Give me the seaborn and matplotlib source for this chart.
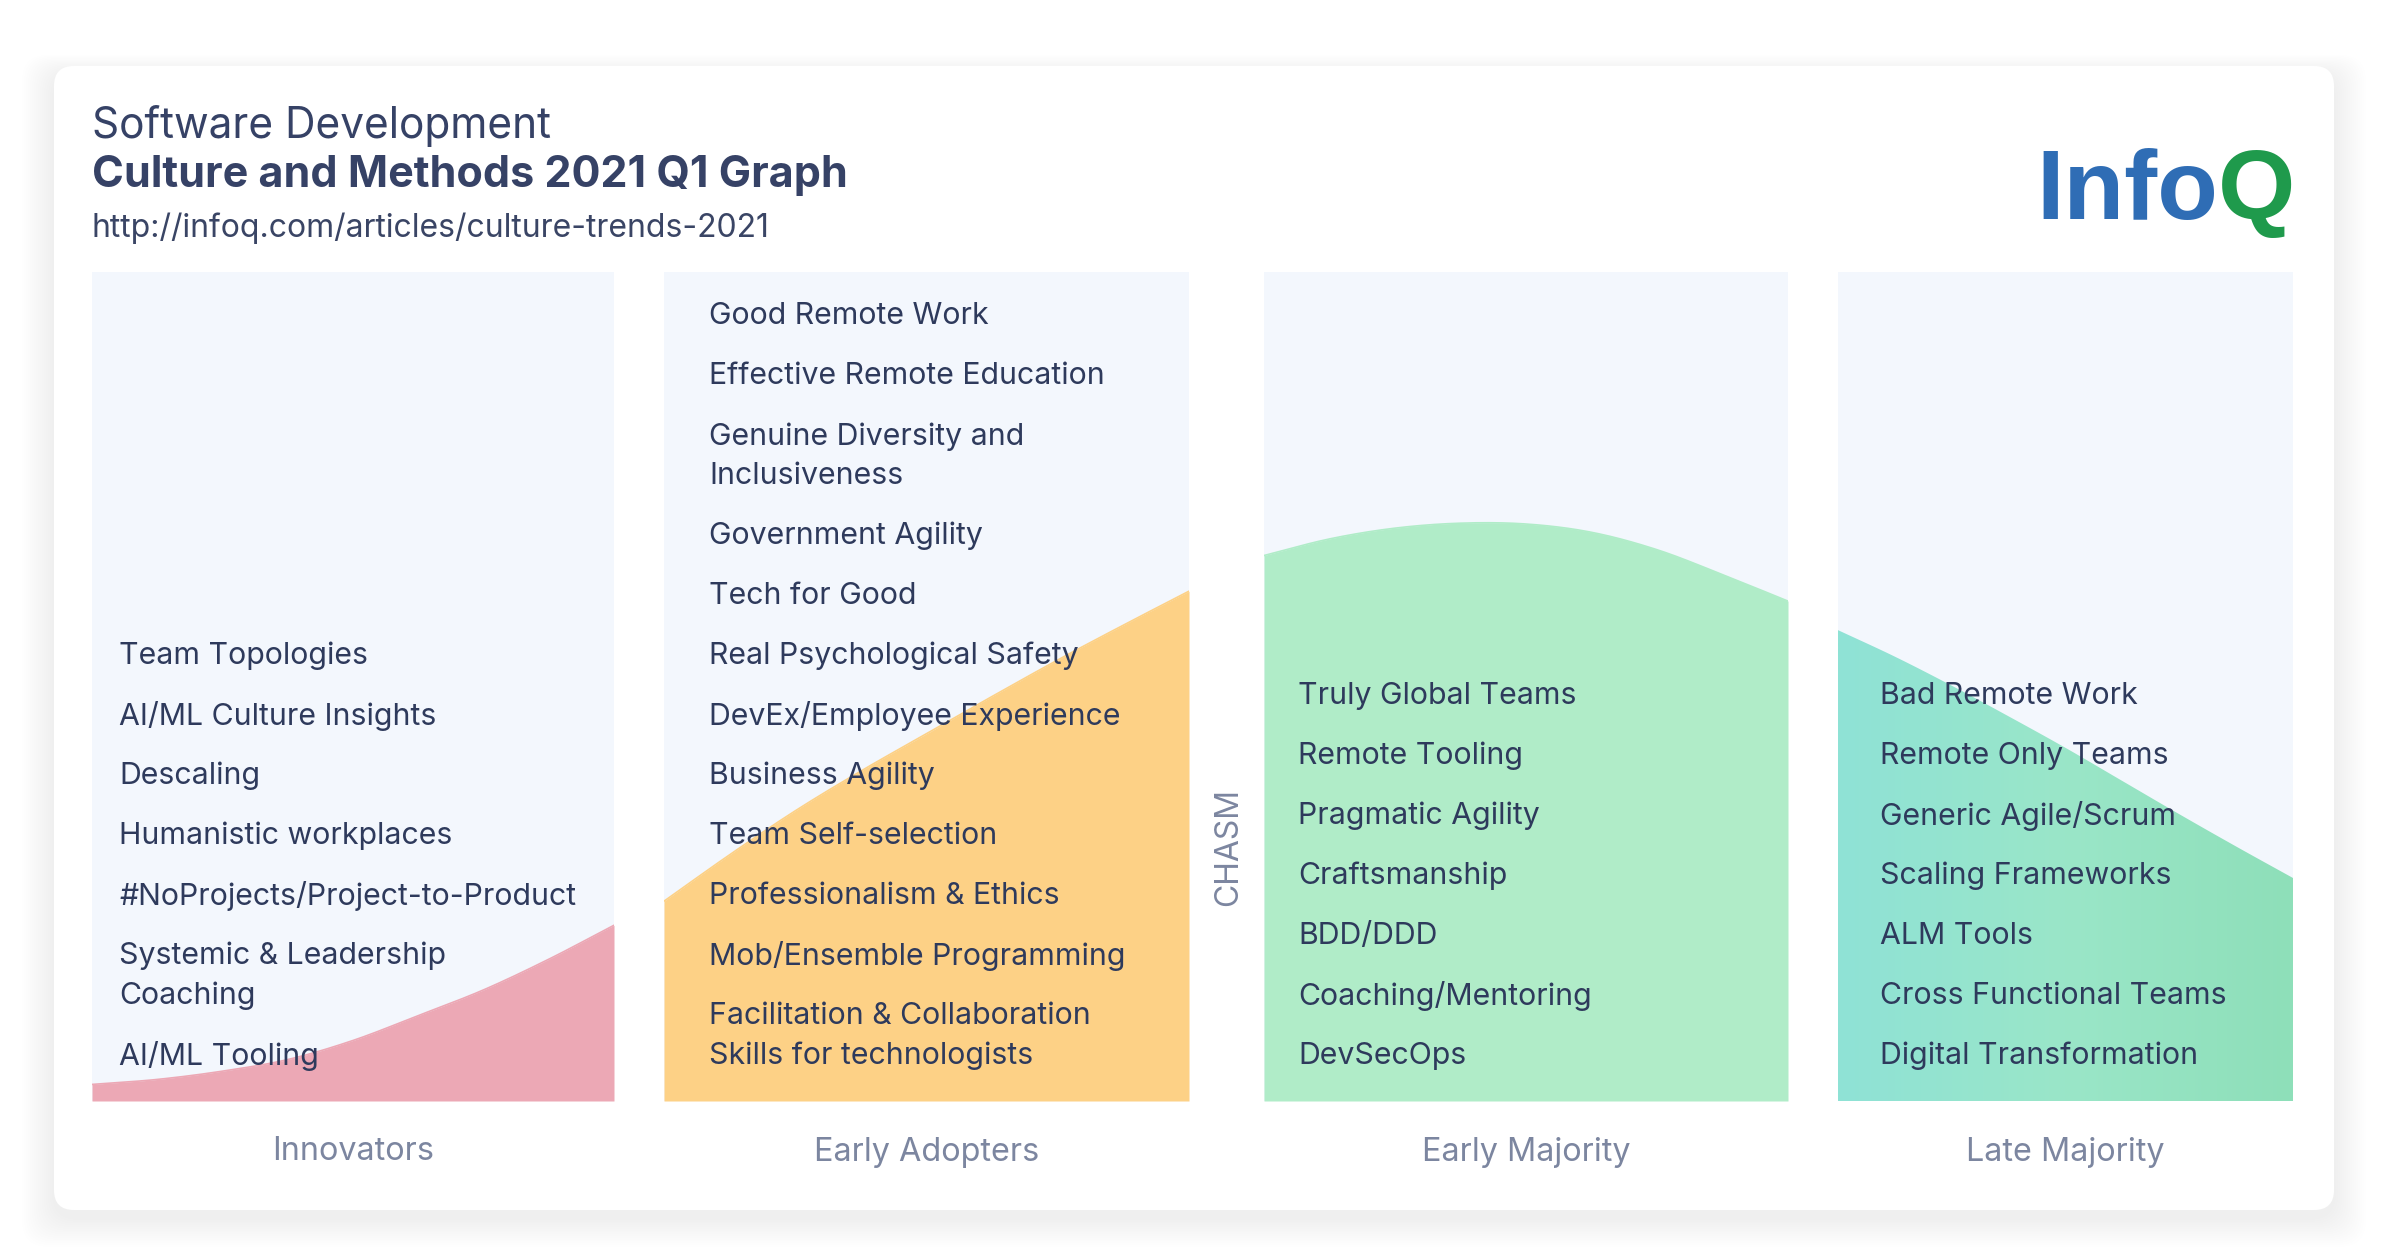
import numpy as np
import matplotlib
matplotlib.use("Agg")
import matplotlib.pyplot as plt
import seaborn as sns
import pandas as pd
from matplotlib.patches import FancyBboxPatch
from matplotlib.colors import LinearSegmentedColormap

# ---------------- data ----------------
stages = ["Innovators", "Early Adopters", "Early Majority", "Late Majority"]

innovators_items = [
    "Team Topologies", "AI/ML Culture Insights", "Descaling", "Humanistic workplaces",
    "#NoProjects/Project-to-Product", "Systemic & Leadership\nCoaching", "AI/ML Tooling",
]
early_adopters_items = [
    "Good Remote Work", "Effective Remote Education", "Genuine Diversity and\nInclusiveness",
    "Government Agility", "Tech for Good", "Real Psychological Safety",
    "DevEx/Employee Experience", "Business Agility", "Team Self-selection",
    "Professionalism & Ethics", "Mob/Ensemble Programming",
    "Facilitation & Collaboration\nSkills for technologists",
]
early_majority_items = [
    "Truly Global Teams", "Remote Tooling", "Pragmatic Agility", "Craftsmanship",
    "BDD/DDD", "Coaching/Mentoring", "DevSecOps",
]
late_majority_items = [
    "Bad Remote Work", "Remote Only Teams", "Generic Agile/Scrum", "Scaling Frameworks",
    "ALM Tools", "Cross Functional Teams", "Digital Transformation",
]

# adoption curve heights (fraction of panel height) across each panel
curve_x = [0.0, 0.125, 0.25, 0.375, 0.5, 0.625, 0.75, 0.875, 1.0]
innovators_curve = [0.020, 0.026, 0.036, 0.050, 0.073, 0.103, 0.134, 0.171, 0.212]
early_adopters_curve = [0.241, 0.297, 0.350, 0.398, 0.443, 0.488, 0.532, 0.574, 0.615]
early_majority_curve = [0.658, 0.678, 0.691, 0.697, 0.696, 0.686, 0.665, 0.635, 0.603]
late_majority_curve = [0.568, 0.536, 0.501, 0.464, 0.426, 0.386, 0.346, 0.307, 0.269]

title_line1 = "Software Development"
title_line2 = "Culture and Methods 2021 Q1 Graph"
url_text = "http://infoq.com/articles/culture-trends-2021"
chasm_label = "CHASM"

# ---------------- style ----------------
sns.set_theme(style="white")
plt.rcParams['font.family'] = ['Inter', 'DejaVu Sans']

W, H = 2400, 1256
fig = plt.figure(figsize=(W / 100, H / 100), dpi=100)
fig.patch.set_facecolor("white")

NAVY = "#2e3a5c"
GREY = "#7c86a0"
PANEL_BG = "#f3f7fd"


def smooth(xs, ys, n=200):
    """Catmull-Rom rendering of the read points."""
    xs = np.asarray(xs, float)
    ys = np.asarray(ys, float)
    px = np.concatenate([[2 * xs[0] - xs[1]], xs, [2 * xs[-1] - xs[-2]]])
    py = np.concatenate([[2 * ys[0] - ys[1]], ys, [2 * ys[-1] - ys[-2]]])
    ox, oy = [], []
    seg = max(n // (len(xs) - 1), 4)
    for i in range(1, len(px) - 2):
        t = np.linspace(0, 1, seg, endpoint=False)
        for arr, out in ((px, ox), (py, oy)):
            p0, p1, p2, p3 = arr[i - 1], arr[i], arr[i + 1], arr[i + 2]
            out.extend(0.5 * ((2 * p1) + (-p0 + p2) * t + (2 * p0 - 5 * p1 + 4 * p2 - p3) * t ** 2
                              + (-p0 + 3 * p1 - 3 * p2 + p3) * t ** 3))
    ox.append(xs[-1]); oy.append(ys[-1])
    return np.array(ox), np.array(oy)


# background axes (card + shadow)
bg = fig.add_axes([0, 0, 1, 1])
bg.set_xlim(0, W); bg.set_ylim(H, 0); bg.axis("off")
card_x0, card_y0, card_x1, card_y1 = 54, 66, 2334, 1210
for k in range(16, 0, -1):
    bg.add_patch(FancyBboxPatch((card_x0 - k * 2.0, card_y0 - k * 1.2 + 8), card_x1 - card_x0 + 4 * k,
                                card_y1 - card_y0 + 3.0 * k, boxstyle="round,pad=0,rounding_size=26",
                                fc="#000000", ec="none", alpha=0.004))
bg.add_patch(FancyBboxPatch((card_x0, card_y0), card_x1 - card_x0, card_y1 - card_y0,
                            boxstyle="round,pad=0,rounding_size=20", fc="white", ec="none"))

# panels
panel_x = [(92, 614), (664, 1189), (1264, 1788), (1838, 2293)]
panel_top, panel_bot = 272, 1101
curves = [innovators_curve, early_adopters_curve, early_majority_curve, late_majority_curve]
colors = ["#eca8b5", "#fdd186", "#b0ecc8", None]
panel_axes = []
for (x0, x1), cv, col in zip(panel_x, curves, colors):
    ax = fig.add_axes([x0 / W, 1 - panel_bot / H, (x1 - x0) / W, (panel_bot - panel_top) / H])
    ax.set_facecolor(PANEL_BG)
    ax.set_xlim(0, 1); ax.set_ylim(0, 1)
    for s in ax.spines.values():
        s.set_visible(False)
    ax.set_xticks([]); ax.set_yticks([])
    sx, sy = smooth(curve_x, cv)
    df = pd.DataFrame({"x": sx, "y": sy})
    if col is not None:
        ax.fill_between(df["x"], 0, df["y"], color=col, lw=0)
        sns.lineplot(data=df, x="x", y="y", ax=ax, color=col, lw=1.2, sort=False)
    else:
        poly = ax.fill_between(df["x"], 0, df["y"], color="none", lw=0)
        cmap = LinearSegmentedColormap.from_list("lm", ["#8fe2d6", "#9ae6c8", "#8edfb9"])
        grad = np.linspace(0, 1, 256).reshape(1, -1)
        im = ax.imshow(grad, extent=[0, 1, 0, 1], aspect="auto", cmap=cmap, origin="lower", zorder=1)
        path = poly.get_paths()[0]
        im.set_clip_path(path, transform=ax.transData)
    ax.set_xlim(0, 1); ax.set_ylim(0, 1)
    ax.set_xlabel(""); ax.set_ylabel("")
    panel_axes.append(ax)

# overlay for text
ov = fig.add_axes([0, 0, 1, 1])
ov.set_xlim(0, W); ov.set_ylim(H, 0); ov.axis("off")
ov.patch.set_alpha(0)

ov.text(92, 126, title_line1, fontsize=30.5, color="#364266", va="center", ha="left")
ov.text(92, 175, title_line2, fontsize=31, color="#364266", va="center", ha="left", fontweight="bold")
ov.text(92, 228, url_text, fontsize=23, color="#3a4565", va="center", ha="left")

# logo
logo_base = 219
t1 = ov.text(2036, logo_base, "Info", fontsize=71.5, color="#2f6db5", fontweight="bold",
             family=["Liberation Sans"], va="baseline", ha="left")
fig.canvas.draw()
bb = t1.get_window_extent()
x_end = bb.x1
ov.text(x_end, logo_base, "Q", fontsize=71.5, color="#1f9a4c", fontweight="bold",
        family=["Liberation Sans"], va="baseline", ha="left")

# items (bottom-aligned)
item_lists = [innovators_items, early_adopters_items, early_majority_items, late_majority_items]
item_x = [119, 709, 1298, 1880]
last_y, step, wrap = 1056, 60.0, 39.8
for items, x in zip(item_lists, item_x):
    y = last_y
    for it in reversed(items):
        lines = it.split("\n")
        for j, ln in enumerate(reversed(lines)):
            ov.text(x, y, ln, fontsize=21.8, color=NAVY, va="center", ha="left")
            if j < len(lines) - 1:
                y -= wrap
        y -= step

# stage labels
for (x0, x1), name in zip(panel_x, stages):
    ov.text((x0 + x1) / 2, 1152, name, fontsize=23.3, color=GREY, va="center", ha="center")

ov.text(1229, 847, chasm_label, fontsize=23, color=GREY, rotation=90, va="center", ha="center")

fig.savefig("out.png", dpi=100, facecolor="white")
